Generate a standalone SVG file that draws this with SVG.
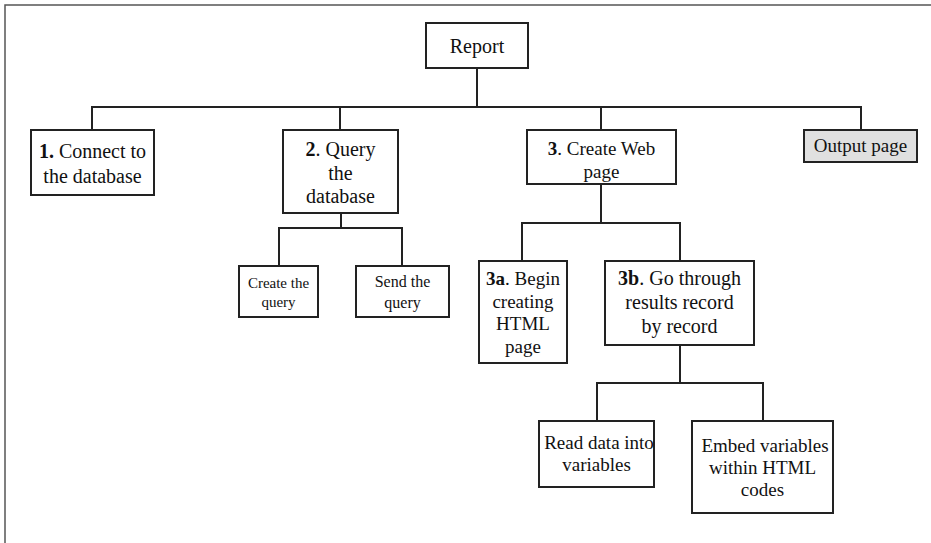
<svg xmlns="http://www.w3.org/2000/svg" width="931" height="543" viewBox="0 0 931 543">
<style>
.bx{fill:#fff;stroke:#222;stroke-width:2}
.gr{fill:#e0e0e0;stroke:#222;stroke-width:2}
.ln{fill:none;stroke:#222;stroke-width:2}
text{fill:#111;text-anchor:middle}
.t20{font-size:20px}
.t19{font-size:19px}
.t16{font-size:16px}
.t15{font-size:15px}
.b{font-weight:bold}
</style>
<rect width="931" height="543" fill="#fff"/>
<path d="M5,543 V5 H931" fill="none" stroke="#555" stroke-width="1.5"/>
<g id="connectors">
<path class="ln" d="M477,68 V107 M92,130 V107 H861 V130 M340,107 V130 M601,107 V130"/>
<path class="ln" d="M341,213 V228 M279,266 V228 H402 V266"/>
<path class="ln" d="M601,184 V223 M522,261 V223 H680 V261"/>
<path class="ln" d="M680,345 V383 M597,421 V383 H763 V421"/>
</g>
<g font-family="Liberation Serif, Tinos, Times New Roman, DejaVu Serif, serif">
<g id="report">
<rect class="bx" x="426" y="23" width="102" height="45"/>
<text class="t20" x="477" y="53">Report</text>
</g>
<g id="connect">
<rect class="bx" x="31" y="130" width="123" height="65"/>
<text class="t20" x="92.5" y="158"><tspan class="b">1.</tspan> Connect to</text>
<text class="t20" x="92.5" y="183">the database</text>
</g>
<g id="query">
<rect class="bx" x="283" y="130" width="115" height="83"/>
<text class="t20" x="340.5" y="156"><tspan class="b">2</tspan>. Query</text>
<text class="t20" x="340.5" y="180">the</text>
<text class="t20" x="340.5" y="203">database</text>
</g>
<g id="createweb">
<rect class="bx" x="527" y="130" width="149" height="54"/>
<text class="t19" x="601.5" y="155"><tspan class="b">3</tspan>. Create Web</text>
<text class="t19" x="601.5" y="178">page</text>
</g>
<g id="output">
<rect class="gr" x="804" y="130" width="113" height="32"/>
<text class="t19" x="860.5" y="152">Output page</text>
</g>
<g id="createquery">
<rect class="bx" x="239" y="266" width="79" height="51"/>
<text class="t15" x="278.5" y="288">Create the</text>
<text class="t15" x="278.5" y="307">query</text>
</g>
<g id="sendquery">
<rect class="bx" x="356" y="266" width="93" height="51"/>
<text class="t16" x="402.5" y="287">Send the</text>
<text class="t16" x="402.5" y="308">query</text>
</g>
<g id="begin">
<rect class="bx" x="479" y="261" width="88" height="102"/>
<text class="t19" x="523" y="285"><tspan class="b">3a</tspan>. Begin</text>
<text class="t19" x="523" y="308">creating</text>
<text class="t19" x="523" y="330">HTML</text>
<text class="t19" x="523" y="353">page</text>
</g>
<g id="gothrough">
<rect class="bx" x="605" y="261" width="149" height="84"/>
<text class="t20" x="679.5" y="285"><tspan class="b">3b</tspan>. Go through</text>
<text class="t20" x="679.5" y="309">results record</text>
<text class="t20" x="679.5" y="333">by record</text>
</g>
<g id="readdata">
<rect class="bx" x="539" y="421" width="115" height="66"/>
<text class="t19" x="599" y="449">Read data into</text>
<text class="t19" x="596.5" y="471">variables</text>
</g>
<g id="embed">
<rect class="bx" x="692" y="421" width="141" height="92"/>
<text class="t19" x="765" y="452">Embed variables</text>
<text class="t19" x="762.5" y="474">within HTML</text>
<text class="t19" x="762.5" y="496">codes</text>
</g>
</g>
</svg>
